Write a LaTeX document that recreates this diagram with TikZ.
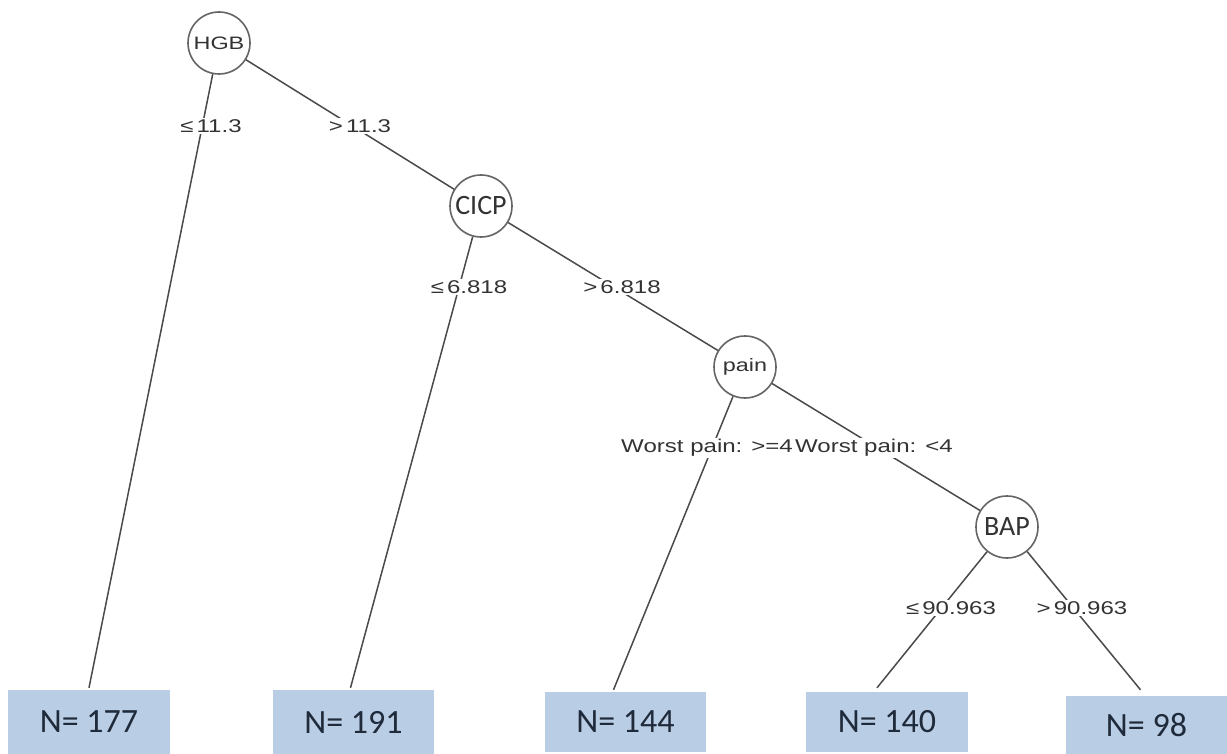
\documentclass[tikz,border=0pt]{standalone}
\usepackage{fontspec}
\setmainfont{Liberation Sans}
\newfontfamily\labfont[FakeStretch=1.3]{Liberation Sans}
\newfontfamily\calfont{Carlito}
\definecolor{boxblue}{HTML}{B9CDE5}
\definecolor{linegray}{HTML}{4A4A4A}
\definecolor{labgray}{HTML}{333333}
\definecolor{ntext}{HTML}{1F2A3A}
\tikzset{
  splitnode/.style={circle, draw=linegray!85, line width=1.6pt, fill=white, minimum size=62pt, inner sep=0pt, text=labgray},
  smallname/.style={font=\labfont\fontsize{18}{20}\selectfont},
  bigname/.style={font=\calfont\fontsize{28}{30}\selectfont},
  leaf/.style={fill=boxblue, draw=none, inner sep=0pt, text=ntext, font=\calfont\fontsize{34}{36}\selectfont},
  edge/.style={draw=linegray, line width=1.5pt},
  elabel/.style={fill=white, inner sep=1pt, text=labgray, font=\labfont\fontsize{18.5}{20}\selectfont}
}
\begin{document}
\begin{tikzpicture}[x=1pt,y=-1pt]
\useasboundingbox (0,0) rectangle (1227,754);
\fill[white] (0,0) rectangle (1227,754);
% split nodes
\node[splitnode, smallname] (HGB) at (219,43) {HGB};
\node[splitnode, bigname] (CICP) at (481,206) {CICP};
\node[splitnode, smallname] (pain) at (745,367) {pain};
\node[splitnode, bigname] (BAP) at (1007,527) {BAP};
% leaves
\node[leaf, minimum width=162pt, minimum height=64pt] (b177) at (89,722) {N= 177};
\node[leaf, minimum width=161pt, minimum height=64pt] (b191) at (353.5,722) {N= 191};
\node[leaf, minimum width=161pt, minimum height=60pt] (b144) at (625.5,722) {N= 144};
\node[leaf, minimum width=162pt, minimum height=60pt] (b140) at (887,722) {N= 140};
\node[leaf, minimum width=161pt, minimum height=58pt] (b98) at (1146.5,725) {N= 98};
% edges
\draw[edge] (HGB) -- ([yshift=2pt]b177.north);
\draw[edge] (HGB) -- (CICP);
\draw[edge] (CICP) -- ([xshift=-3pt,yshift=2pt]b191.north);
\draw[edge] (CICP) -- (pain);
\draw[edge] (pain) -- ([xshift=-12pt,yshift=2pt]b144.north);
\draw[edge] (pain) -- (BAP);
\draw[edge] (BAP) -- ([xshift=-10pt,yshift=4pt]b140.north);
\draw[edge] (BAP) -- ([xshift=-6pt,yshift=6pt]b98.north);
% edge labels
\node[elabel] (l1) at (211,126) {≤\,11.3};
\node[elabel] (l2) at (360,126) {>\,11.3};
\node[elabel] (l3) at (469,287) {≤\,6.818};
\node[elabel] (l4) at (622,287) {>\,6.818};
\node[elabel, anchor=east] (l5) at (794,448) {Worst pain: >=4};
\node[elabel, anchor=west] (l6) at (794,448) {Worst pain: <4};
\node[elabel] (l7) at (951,608) {≤\,90.963};
\node[elabel] (l8) at (1082,608) {>\,90.963};
\end{tikzpicture}
\end{document}
